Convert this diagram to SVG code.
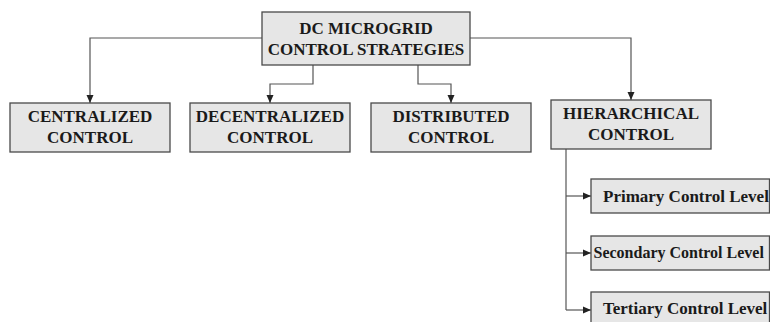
<svg xmlns="http://www.w3.org/2000/svg" width="770" height="322" viewBox="0 0 770 322">
  <style>
    .box { fill: #e6e6e6; stroke: #4a4a4a; stroke-width: 1.3; }
    .lbl { font-family: "Liberation Serif", "Times New Roman", serif; font-weight: bold; font-size: 17px; fill: #1a1a1a; }
    .mid { text-anchor: middle; }
    .wire { fill: none; stroke: #555; stroke-width: 1.2; }
  </style>
  <defs>
    <marker id="arrow" viewBox="0 0 8 8" refX="8" refY="4" markerWidth="8" markerHeight="8" markerUnits="userSpaceOnUse" orient="auto">
      <path d="M0,0.5 L8,4 L0,7.5 Z" fill="#222"/>
    </marker>
  </defs>

  <g id="connectors">
    <path class="wire" d="M262,38 H90 V103" marker-end="url(#arrow)"/>
    <path class="wire" d="M313,65 V84 H270 V103" marker-end="url(#arrow)"/>
    <path class="wire" d="M418,65 V84 H451 V103" marker-end="url(#arrow)"/>
    <path class="wire" d="M470,38 H631 V100" marker-end="url(#arrow)"/>
    <path class="wire" d="M566,149 V310"/>
    <path class="wire" d="M566,196 H591" marker-end="url(#arrow)"/>
    <path class="wire" d="M566,253 H591" marker-end="url(#arrow)"/>
    <path class="wire" d="M566,310 H591" marker-end="url(#arrow)"/>
  </g>

  <g id="root">
    <rect class="box" x="262" y="12" width="208" height="53"/>
    <text class="lbl mid" x="366" y="34">DC MICROGRID</text>
    <text class="lbl mid" x="366" y="55">CONTROL STRATEGIES</text>
  </g>

  <g id="centralized">
    <rect class="box" x="10" y="103" width="160" height="49"/>
    <text class="lbl mid" x="90" y="122">CENTRALIZED</text>
    <text class="lbl mid" x="90" y="143">CONTROL</text>
  </g>

  <g id="decentralized">
    <rect class="box" x="190" y="103" width="160" height="49"/>
    <text class="lbl mid" x="270" y="122">DECENTRALIZED</text>
    <text class="lbl mid" x="270" y="143">CONTROL</text>
  </g>

  <g id="distributed">
    <rect class="box" x="371" y="103" width="160" height="49"/>
    <text class="lbl mid" x="451" y="122">DISTRIBUTED</text>
    <text class="lbl mid" x="451" y="143">CONTROL</text>
  </g>

  <g id="hierarchical">
    <rect class="box" x="551" y="100" width="160" height="49"/>
    <text class="lbl mid" x="631" y="119">HIERARCHICAL</text>
    <text class="lbl mid" x="631" y="140">CONTROL</text>
  </g>

  <g id="primary">
    <rect class="box" x="591" y="179" width="178.5" height="34"/>
    <text class="lbl" x="603" y="202">Primary Control Level</text>
  </g>

  <g id="secondary">
    <rect class="box" x="591" y="236" width="178.5" height="34"/>
    <text class="lbl" x="593.5" y="258" style="font-size:16px">Secondary Control Level</text>
  </g>

  <g id="tertiary">
    <rect class="box" x="591" y="292" width="178.5" height="40"/>
    <text class="lbl" x="603" y="314">Tertiary Control Level</text>
  </g>
</svg>
